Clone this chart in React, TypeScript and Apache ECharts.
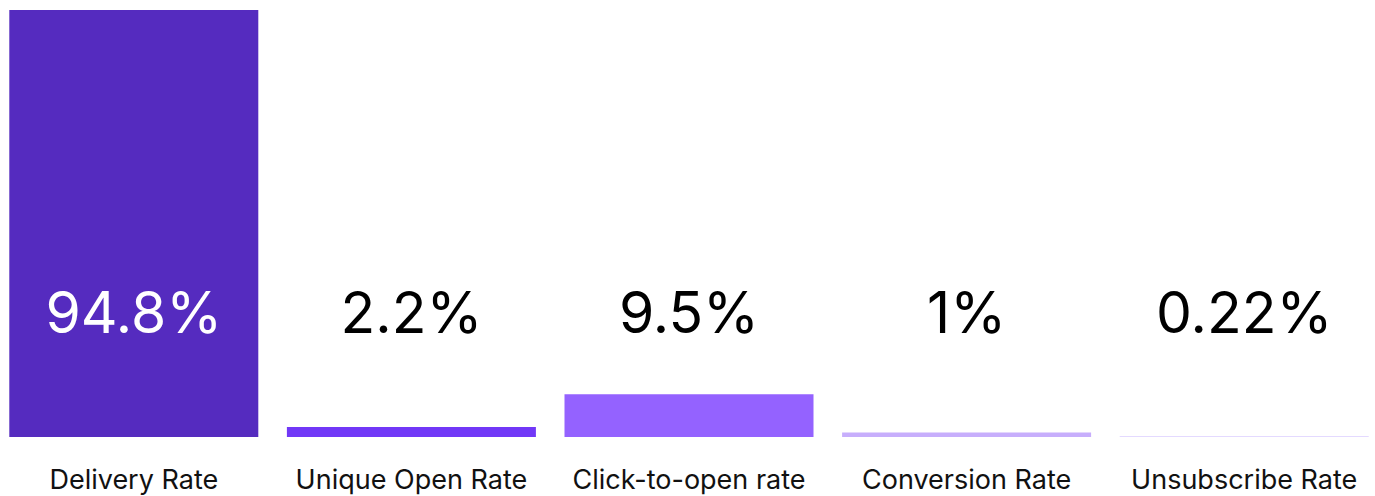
import React, { useEffect, useRef } from "react";
import * as echarts from "echarts";

const categories = ["Delivery Rate", "Unique Open Rate", "Click-to-open rate", "Conversion Rate", "Unsubscribe Rate"];
const values = [94.8, 2.2, 9.5, 1, 0.22];
const valueLabels = ["94.8%", "2.2%", "9.5%", "1%", "0.22%"];
const barColors = ["#552BBF", "#7138F7", "#9462FF", "#C7AEFC", "#E4DAFF"];
const labelColors = ["#FFFFFF", "#000000", "#000000", "#000000", "#000000"];

export default function App() {
  const ref = useRef<HTMLDivElement>(null);
  useEffect(() => {
    document.body.style.margin = "0";
    document.body.style.overflow = "hidden";
    const chart = echarts.init(ref.current!, null, { renderer: "svg" });
    chart.setOption({
      animation: false,
      grid: { left: 0, right: 0, top: 10, bottom: 59, containLabel: false },
      xAxis: {
        type: "category",
        data: categories,
        axisLine: { show: false },
        axisTick: { show: false },
        axisLabel: {
          color: "#111111",
          fontSize: 27,
          fontFamily: "Inter",
          margin: 29,
          interval: 0,
          hideOverlap: false,
        },
      },
      yAxis: {
        type: "value",
        min: 0,
        max: "dataMax",
        show: false,
        splitLine: { show: false },
      },
      series: [
        {
          type: "bar",
          barWidth: 249,
          data: values.map((v, i) => ({
            value: v,
            itemStyle: { color: barColors[i] },
            label: {
              show: true,
              position: "insideBottom",
              distance: 96,
              formatter: valueLabels[i],
              color: labelColors[i],
              fontSize: 57,
              fontFamily: "Inter",
            },
          })),
        },
      ],
    });
    return () => chart.dispose();
  }, []);
  return (
    <div style={{ width: 1375, height: 496, overflow: "hidden", position: "relative" }}>
      <div ref={ref} style={{ position: "absolute", left: -5, top: 0, width: 1388, height: 496 }} />
    </div>
  );
}
